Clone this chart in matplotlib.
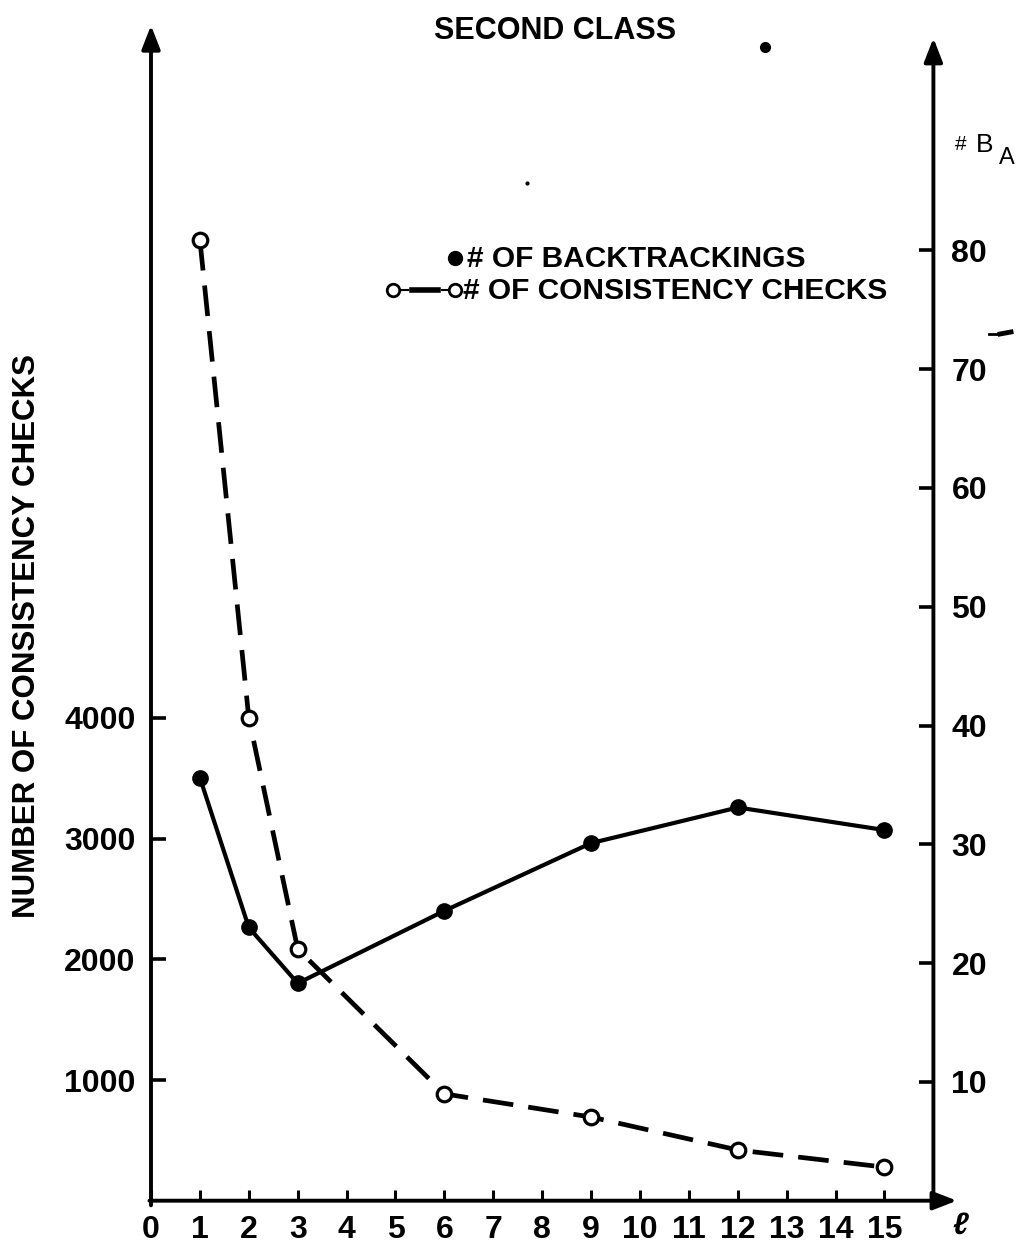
import numpy as np
import matplotlib
matplotlib.use('Agg')
import matplotlib.pyplot as plt
from matplotlib.lines import Line2D

plt.rcParams['font.family'] = ['Liberation Sans', 'DejaVu Sans']
plt.rcParams['font.weight'] = 'bold'

# x = l (parameter)
l_vals = [1, 2, 3, 6, 9, 12, 15]
consistency_checks = [7960, 4000, 2085, 885, 693, 420, 278]   # left axis
backtrackings = [35.6, 23.0, 18.3, 24.4, 30.1, 33.1, 31.2]     # right axis

x_ticks = list(range(16))
left_ticks = [1000, 2000, 3000, 4000]
right_ticks = [10, 20, 30, 40, 50, 60, 70, 80]

W, H = 1019, 1247
fig = plt.figure(figsize=(W / 100, H / 100), dpi=100)
fig.patch.set_facecolor('white')

# pixel layout of the plotting box
x0_px, xunit_px = 151, 48.9
y0_px, ytop_px = 1200.7, 45
ax = fig.add_axes([x0_px / W, 1 - y0_px / H, 16 * xunit_px / W, (y0_px - ytop_px) / H])
ax.set_xlim(0, 16)
ax.set_ylim(0, (y0_px - ytop_px) / 0.1207)
ax2 = ax.twinx()
ax2.set_ylim(0, (y0_px - ytop_px) / 11.88)

for a in (ax, ax2):
    for s in a.spines.values():
        s.set_visible(False)
    a.patch.set_visible(False)

# axis lines with arrow heads
arr = dict(arrowstyle='-|>,head_length=0.9,head_width=0.35', lw=2.8, color='black',
           mutation_scale=16, shrinkA=0, shrinkB=0)
ax.annotate('', xy=(0, 1.017), xytext=(0, -0.004), xycoords='axes fraction',
            textcoords='axes fraction', arrowprops=arr, annotation_clip=False)
ax.annotate('', xy=(1, 1.006), xytext=(1, -0.004), xycoords='axes fraction',
            textcoords='axes fraction', arrowprops=arr, annotation_clip=False)
ax.annotate('', xy=(1.03, 0.0), xytext=(-0.002, 0.0), xycoords='axes fraction',
            textcoords='axes fraction', arrowprops=arr, annotation_clip=False)

ax.set_xticks(x_ticks)
ax.set_xticklabels([str(v) for v in x_ticks])
ax.tick_params(axis='x', direction='in', length=8, width=2.2, pad=10, labelsize=23)
ax.set_yticks(left_ticks)
ax.set_yticklabels([str(v) for v in left_ticks])
ax.tick_params(axis='y', direction='in', length=11, width=2.6, pad=11, labelsize=23)
ax2.set_yticks(right_ticks)
ax2.set_yticklabels([str(v) for v in right_ticks])
ax2.tick_params(axis='y', direction='in', length=10, width=2.6, pad=13, labelsize=23)
for lab in ax.get_xticklabels() + ax.get_yticklabels() + ax2.get_yticklabels():
    lab.set_fontweight('bold')

# series
ax.plot(l_vals, consistency_checks, color='black', lw=3.4, dashes=(6.5, 3.2),
        dash_capstyle='butt', marker='o', ms=10.5, mfc='white', mec='black', mew=2.3,
        clip_on=False, zorder=3)
ax2.plot(l_vals, backtrackings, color='black', lw=3.0, marker='o', ms=11,
         mfc='black', mec='black', clip_on=False, zorder=3)

# the l label at the end of the x axis
fig.text(960 / W, 1 - 1226 / H, 'ℓ', fontsize=22, fontstyle='italic',
         ha='center', va='center')

# title and axis label
fig.text(555 / W, 1 - 31 / H, 'SECOND CLASS', fontsize=22, fontweight='bold',
         ha='center', va='center')
fig.text(27 / W, 1 - 636 / H, 'NUMBER OF CONSISTENCY CHECKS', fontsize=22.5,
         fontweight='bold', rotation=90, ha='center', va='center')

# legend drawn by hand
fig.add_artist(Line2D([455 / W], [1 - 258 / H], marker='o', ms=10, color='black',
                      lw=0, transform=fig.transFigure))
fig.text(467 / W, 1 - 259 / H, '# OF BACKTRACKINGS', fontsize=21.5, fontweight='bold',
         ha='left', va='center')
fig.add_artist(Line2D([398 / W, 408 / W], [1 - 290 / H, 1 - 290 / H], color='black',
                      lw=1.5, transform=fig.transFigure))
fig.add_artist(Line2D([412 / W, 438 / W], [1 - 290 / H, 1 - 290 / H], color='black',
                      lw=4, transform=fig.transFigure))
fig.add_artist(Line2D([442 / W, 452 / W], [1 - 290 / H, 1 - 290 / H], color='black',
                      lw=1.5, transform=fig.transFigure))
fig.add_artist(Line2D([393 / W, 455 / W], [1 - 290 / H, 1 - 290 / H], marker='o', ms=9,
                      mfc='white', mec='black', mew=2, lw=0, transform=fig.transFigure))
fig.text(463 / W, 1 - 291 / H, '# OF CONSISTENCY CHECKS', fontsize=21.5, fontweight='bold',
         ha='left', va='center')

# stray marks on the scan
fig.add_artist(Line2D([765 / W], [1 - 47 / H], marker='o', ms=7, color='black', lw=0,
                      transform=fig.transFigure))
fig.add_artist(Line2D([527 / W], [1 - 183 / H], marker='o', ms=2, color='black', lw=0,
                      transform=fig.transFigure))
fig.text(955 / W, 1 - 145 / H, '#', fontsize=15, fontweight='normal', ha='left', va='center')
fig.text(976 / W, 1 - 145 / H, 'B', fontsize=19, fontweight='normal', ha='left', va='center')
fig.text(999 / W, 1 - 158 / H, 'A', fontsize=17, fontweight='normal', ha='left', va='center')
fig.add_artist(Line2D([989 / W, 1000 / W], [1 - 334 / H, 1 - 334 / H], color='black',
                      lw=2, transform=fig.transFigure))
fig.add_artist(Line2D([1000 / W, 1011 / W], [1 - 334 / H, 1 - 332 / H], color='black',
                      lw=3.5, transform=fig.transFigure))

fig.savefig('out.png', dpi=100)
